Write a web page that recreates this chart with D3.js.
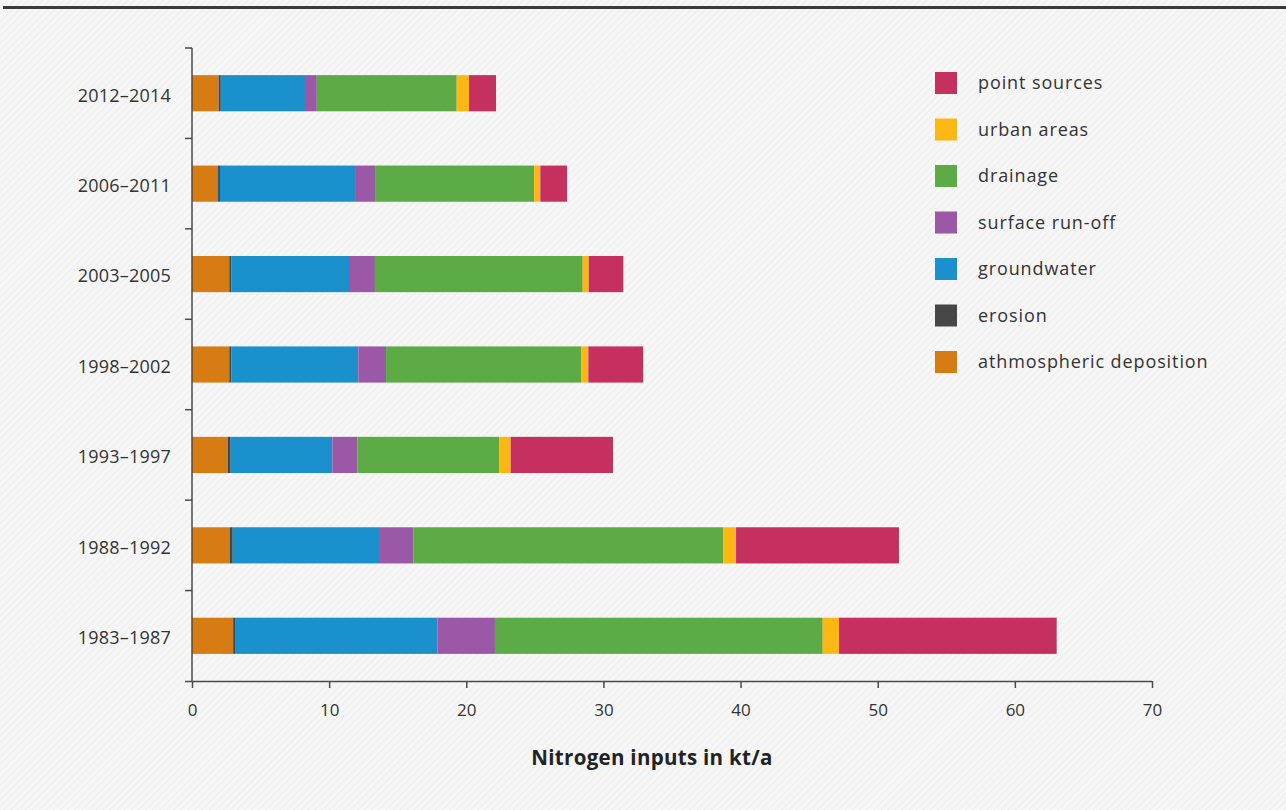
<!DOCTYPE html>
<html>
<head>
<meta charset="utf-8">
<script src="https://cdn.jsdelivr.net/npm/d3@7/dist/d3.min.js"></script>
<style>
  html, body { margin: 0; padding: 0; background: #f5f5f5; }
  svg { display: block; }
</style>
</head>
<body>
<svg id="chart" width="1286" height="810"></svg>
<script>
// ---- data ----
const periods = ["2012–2014", "2006–2011", "2003–2005", "1998–2002", "1993–1997", "1988–1992", "1983–1987"];
const seriesKeys = ["athmospheric deposition", "erosion", "groundwater", "surface run-off", "drainage", "urban areas", "point sources"];
const atmosphericDeposition = [1.95, 1.90, 2.72, 2.72, 2.60, 2.77, 3.00];
const erosion              = [0.15, 0.14, 0.16, 0.16, 0.22, 0.20, 0.14];
const groundwater          = [6.14, 9.85, 8.64, 9.25, 7.42, 10.74, 14.77];
const surfaceRunoff        = [0.86, 1.51, 1.82, 2.02, 1.82, 2.43, 4.18];
const drainage             = [10.2, 11.55, 15.15, 14.22, 10.33, 22.6, 23.9];
const urbanAreas           = [0.90, 0.45, 0.44, 0.53, 0.85, 0.93, 1.19];
const pointSources         = [1.97, 1.95, 2.52, 4.00, 7.46, 11.88, 15.87];
const xTicks = [0, 10, 20, 30, 40, 50, 60, 70];
const legendOrder = ["point sources", "urban areas", "drainage", "surface run-off", "groundwater", "erosion", "athmospheric deposition"];
const colors = {
  "athmospheric deposition": "#d67c12",
  "erosion": "#474747",
  "groundwater": "#1a90cc",
  "surface run-off": "#9a58a6",
  "drainage": "#5cab47",
  "urban areas": "#fbb812",
  "point sources": "#c6305f"
};

// ---- build table ----
const seriesArrays = [atmosphericDeposition, erosion, groundwater, surfaceRunoff, drainage, urbanAreas, pointSources];
const table = periods.map((p, i) => {
  const row = { period: p };
  seriesKeys.forEach((k, j) => row[k] = seriesArrays[j][i]);
  return row;
});
const stacked = d3.stack().keys(seriesKeys)(table);

const svg = d3.select("#chart");

// background hatching
const defs = svg.append("defs");
const pat = defs.append("pattern").attr("id", "hatch").attr("patternUnits", "userSpaceOnUse")
  .attr("width", 5).attr("height", 5).attr("patternTransform", "rotate(45)");
pat.append("rect").attr("width", 5).attr("height", 5).attr("fill", "#f6f6f6");
pat.append("line").attr("x1", 0).attr("y1", 0).attr("x2", 0).attr("y2", 5)
  .attr("stroke", "#ececec").attr("stroke-width", 1.5);
svg.append("rect").attr("width", 1286).attr("height", 810).attr("fill", "url(#hatch)");

// top rule
svg.append("rect").attr("x", 3).attr("y", 6).attr("width", 1283).attr("height", 3).attr("fill", "#3a3a3a");

const x = d3.scaleLinear().domain([0, 70]).range([192, 1152]);
const y = d3.scaleBand().domain(periods).range([48, 681]).paddingInner(0.6).paddingOuter(0.3);

// bars
svg.append("g").selectAll("g").data(stacked).join("g")
  .attr("fill", d => colors[d.key])
  .selectAll("rect").data(d => d).join("rect")
  .attr("x", d => x(d[0]))
  .attr("y", d => y(d.data.period))
  .attr("width", d => x(d[1]) - x(d[0]))
  .attr("height", y.bandwidth());

const axisColor = "#4a4a4a";

// y axis line and ticks at band boundaries
const boundaryOffset = (y.step() - y.bandwidth()) / 2;
svg.append("line").attr("x1", x(0)).attr("x2", x(0)).attr("y1", 48).attr("y2", 681)
  .attr("stroke", axisColor).attr("stroke-width", 1.5);
svg.append("g").selectAll("line").data(periods).join("line")
  .attr("x1", x(0) - 7).attr("x2", x(0))
  .attr("y1", d => y(d) - boundaryOffset).attr("y2", d => y(d) - boundaryOffset)
  .attr("stroke", axisColor).attr("stroke-width", 1.5);

// category labels
svg.append("g").selectAll("text").data(periods).join("text")
  .attr("x", 171).attr("y", d => y(d) + y.bandwidth() / 2 + 2)
  .attr("dy", "0.35em").attr("text-anchor", "end")
  .attr("font-family", "'Open Sans', sans-serif").attr("font-size", 18).attr("letter-spacing", 0.2)
  .attr("fill", "#333").text(d => d);

// x axis
const xAxis = d3.axisBottom(x).tickValues(xTicks).tickSize(7).tickPadding(16).tickSizeOuter(0);
const gx = svg.append("g").attr("transform", "translate(0,681)").call(xAxis);
gx.select(".domain").attr("stroke", axisColor).attr("stroke-width", 1.5).attr("d", `M${x(0) - 7},0.5H${x(70)}`);
gx.selectAll(".tick line").attr("stroke", axisColor).attr("stroke-width", 1.5);
gx.selectAll(".tick text").attr("font-family", "'Open Sans', sans-serif").attr("font-size", 17)
  .attr("fill", "#333");

// axis title
svg.append("text").attr("x", 652).attr("y", 765).attr("text-anchor", "middle")
  .attr("font-family", "'Open Sans', sans-serif").attr("font-weight", "bold").attr("font-size", 20.5)
  .attr("letter-spacing", 0.3)
  .attr("fill", "#222").text("Nitrogen inputs in kt/a");

// legend
const lg = svg.append("g").selectAll("g").data(legendOrder).join("g")
  .attr("transform", (d, i) => `translate(935, ${83 + i * 46.5})`);
lg.append("rect").attr("x", 0).attr("y", -11).attr("width", 22).attr("height", 22)
  .attr("fill", d => colors[d]);
lg.append("text").attr("x", 43).attr("dy", "0.35em")
  .attr("font-family", "'Open Sans', sans-serif").attr("font-size", 18).attr("letter-spacing", 0.9)
  .attr("fill", "#333").text(d => d);
</script>
</body>
</html>
